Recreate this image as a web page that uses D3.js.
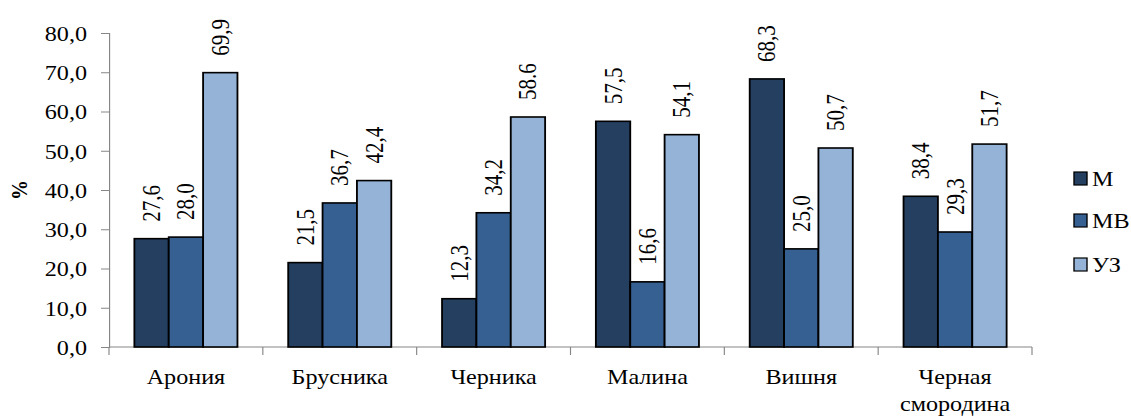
<!DOCTYPE html>
<html><head><meta charset="utf-8">
<script src="https://cdn.jsdelivr.net/npm/d3@7"></script>
<style>html,body{margin:0;padding:0;background:#fff;overflow:hidden}
svg text{font-family:"Liberation Serif","Tinos","Times New Roman","DejaVu Serif","Noto Serif",serif;}</style>
</head><body>
<script>
const categories = ["Арония","Брусника","Черника","Малина","Вишня","Черная смородина"];
const seriesNames = ["М","МВ","УЗ"];
const valuesM  = [27.6, 21.5, 12.3, 57.5, 68.3, 38.4];
const valuesMV = [28.0, 36.7, 34.2, 16.6, 25.0, 29.3];
const valuesUZ = [69.9, 42.4, 58.6, 54.1, 50.7, 51.7];
const labelsM  = ["27,6","21,5","12,3","57,5","68,3","38,4"];
const labelsMV = ["28,0","36,7","34,2","16,6","25,0","29,3"];
const labelsUZ = ["69,9","42,4","58.6","54,1","50,7","51,7"];
const yTicks = [0,10,20,30,40,50,60,70,80];
const colors = ["#243F60","#376092","#95B3D7"];

const W = 1131, H = 420, SX = 1.15;
const IW = W / SX;
const FS = 21;
const svg = d3.select("body").append("svg")
  .attr("width", W).attr("height", H)
  .attr("viewBox", `0 0 ${IW} ${H}`)
  .attr("preserveAspectRatio", "none");

const x0 = 109 / SX, x1 = 1032 / SX, yBot = 347, yTop = 33;
const axisColor = "#868686";

const x = d3.scaleBand().domain(categories).range([x0, x1]).paddingInner(0.33).paddingOuter(0.165);
const xs = d3.scaleBand().domain(seriesNames).range([0, x.bandwidth()]);
const y = d3.scaleLinear().domain([0, 80]).range([yBot, yTop]);

const series = [
  {name: seriesNames[0], vals: valuesM, labels: labelsM, color: colors[0]},
  {name: seriesNames[1], vals: valuesMV, labels: labelsMV, color: colors[1]},
  {name: seriesNames[2], vals: valuesUZ, labels: labelsUZ, color: colors[2]}
];

// Y axis
const yAxis = d3.axisLeft(y).tickValues(yTicks).tickSize(8 / SX).tickPadding(14 / SX)
  .tickFormat(d => d3.format(".1f")(d).replace(".", ","));
const gy = svg.append("g").attr("transform", `translate(${x0},0)`).call(yAxis).attr("font-family", null);
gy.select(".domain").attr("stroke", axisColor).attr("stroke-width", 1);
gy.selectAll(".tick line").attr("stroke", axisColor);
gy.selectAll(".tick text").attr("font-size", FS).attr("fill", "#000").attr("dy", "0.35em");

// X axis line and boundary ticks
svg.append("line").attr("x1", x0).attr("x2", x1).attr("y1", yBot).attr("y2", yBot)
  .attr("stroke", axisColor).attr("stroke-width", 1.2);
const step = x.step();
svg.append("g").selectAll("line").data(d3.range(categories.length + 1)).join("line")
  .attr("x1", i => x0 + i * step).attr("x2", i => x0 + i * step)
  .attr("y1", yBot).attr("y2", yBot + 8).attr("stroke", axisColor).attr("stroke-width", 1);

// Bars
series.forEach(s => {
  const g = svg.append("g");
  g.selectAll("rect").data(categories).join("rect")
    .attr("x", (c) => x(c) + xs(s.name))
    .attr("width", xs.bandwidth())
    .attr("y", (c, i) => y(s.vals[i]))
    .attr("height", (c, i) => yBot - y(s.vals[i]))
    .attr("fill", s.color).attr("stroke", "#000").attr("stroke-width", 1.6);
  g.selectAll("text").data(categories).join("text")
    .attr("transform", (c, i) => `translate(${x(c) + xs(s.name) + xs.bandwidth() / 2},${y(s.vals[i]) - 17}) rotate(-90)`)
    .attr("dy", "0.35em")
    .attr("font-size", FS).attr("fill", "#000")
    .text((c, i) => s.labels[i]);
});

// X labels
svg.append("g").selectAll("text").data(categories).join("text")
  .attr("x", c => x(c) + x.bandwidth() / 2)
  .attr("y", 384)
  .attr("text-anchor", "middle")
  .attr("font-size", FS).attr("fill", "#000")
  .each(function(c) {
    const parts = c.split(" ");
    const t = d3.select(this);
    parts.forEach((p, k) => {
      t.append("tspan").attr("x", x(c) + x.bandwidth() / 2).attr("dy", k === 0 ? 0 : 27).text(p);
    });
  });

// Y title
svg.append("text").attr("transform", `translate(${27 / SX},190) rotate(-90)`)
  .attr("text-anchor", "middle").attr("font-size", 20)
  .attr("font-weight", "bold").attr("fill", "#000").text("%");

// Legend
const legY = [179, 221, 265];
series.forEach((s, i) => {
  svg.append("rect").attr("x", 1074 / SX).attr("y", legY[i] - 7).attr("width", 13 / SX).attr("height", 13)
    .attr("fill", s.color).attr("stroke", "#000").attr("stroke-width", 1.2);
  svg.append("text").attr("x", 1092 / SX).attr("y", legY[i]).attr("dy", "0.35em")
    .attr("font-size", FS).attr("fill", "#000").text(s.name);
});
</script>
</body></html>
